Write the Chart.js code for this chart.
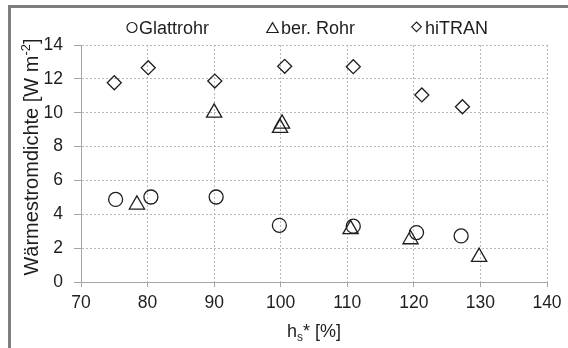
<!DOCTYPE html>
<html>
<head>
<meta charset="utf-8">
<script src="https://cdn.jsdelivr.net/npm/chart.js@4.4.1/dist/chart.umd.min.js"></script>
<style>
html, body { margin: 0; padding: 0; background: #fff; }
#wrap { position: relative; width: 568px; height: 348px; overflow: hidden; }
#frame { position: absolute; left: 8px; top: 5px; width: 620px; height: 400px;
         border-top: 3px solid #7f7f7f; border-left: 3px solid #7f7f7f; }
canvas { position: absolute; left: 0; top: 0; }
</style>
</head>
<body>
<div id="wrap">
  <div id="frame"></div>
  <canvas id="c" width="568" height="348"></canvas>
</div>
<script>
// hs* [%] and heat flux density [W m^-2] for the three tube types
const glattX = [75.2, 80.5, 90.3, 99.8, 110.9, 120.4, 127.1];
const glattY = [4.88, 5.02, 5.02, 3.35, 3.3, 2.92, 2.72];

const berX = [78.4, 90.0, 99.9, 100.2, 110.5, 119.5, 129.8];
const berY = [4.57, 10.0, 9.1, 9.35, 3.12, 2.52, 1.48];

const hiX = [75.0, 80.1, 90.1, 100.6, 110.9, 121.2, 127.3];
const hiY = [11.77, 12.66, 11.87, 12.74, 12.72, 11.05, 10.35];

const seriesNames = ['Glattrohr', 'ber. Rohr', 'hiTRAN'];
const xTicks = [70, 80, 90, 100, 110, 120, 130, 140];
const yTicks = [0, 2, 4, 6, 8, 10, 12, 14];

const FONT = "'Liberation Sans', Arial, sans-serif";
const INK = '#1e1e1e';

const toPoints = (xs, ys) => xs.map((x, i) => ({ x: x, y: ys[i] }));

// legend marker shapes
function legendMark(ctx, style, x, y, r) {
  ctx.beginPath();
  if (style === 'circle') {
    ctx.arc(x, y, r, 0, Math.PI * 2);
  } else if (style === 'triangle') {
    ctx.moveTo(x, y - r);
    ctx.lineTo(x + r * Math.sin(Math.PI / 3), y + r / 2);
    ctx.lineTo(x - r * Math.sin(Math.PI / 3), y + r / 2);
    ctx.closePath();
  } else {
    ctx.moveTo(x - r, y);
    ctx.lineTo(x, y - r);
    ctx.lineTo(x + r, y);
    ctx.lineTo(x, y + r);
    ctx.closePath();
  }
  ctx.stroke();
}

const decorations = {
  id: 'decorations',
  afterDraw(chart) {
    const ctx = chart.ctx;
    const area = chart.chartArea;
    ctx.save();
    ctx.fillStyle = INK;
    ctx.strokeStyle = INK;
    ctx.lineWidth = 1.2;

    // legend
    const items = [
      { style: 'circle', mx: 132, my: 27.5, r: 5, tx: 139 },
      { style: 'triangle', mx: 272.5, my: 29.2, r: 6.6, tx: 281 },
      { style: 'rectRot', mx: 416.5, my: 26.8, r: 4.8, tx: 425 }
    ];
    ctx.font = '18px ' + FONT;
    ctx.textBaseline = 'alphabetic';
    ctx.textAlign = 'left';
    items.forEach((it, i) => {
      legendMark(ctx, it.style, it.mx, it.my, it.r);
      ctx.fillText(seriesNames[i], it.tx, 34);
    });

    // x axis title: h_s* [%]
    const cx = (area.left + area.right) / 2;
    ctx.font = '18px ' + FONT;
    const wH = ctx.measureText('h').width;
    const wRest = ctx.measureText('* [%]').width;
    ctx.font = '12px ' + FONT;
    const wS = ctx.measureText('s').width;
    let x0 = cx - (wH + wS + wRest) / 2;
    ctx.font = '18px ' + FONT;
    ctx.fillText('h', x0, 337);
    ctx.font = '12px ' + FONT;
    ctx.fillText('s', x0 + wH, 341);
    ctx.font = '18px ' + FONT;
    ctx.fillText('* [%]', x0 + wH + wS, 337);

    // y axis title: Wärmestromdichte [W m^-2]
    ctx.translate(38, 157);
    ctx.rotate(-Math.PI / 2);
    ctx.font = '20px ' + FONT;
    const a = 'Wärmestromdichte [W m';
    const b = '-2';
    const c = ']';
    const wa = ctx.measureText(a).width;
    const wc = ctx.measureText(c).width;
    ctx.font = '13px ' + FONT;
    const wb = ctx.measureText(b).width;
    let s0 = -(wa + wb + wc) / 2;
    ctx.font = '20px ' + FONT;
    ctx.fillText(a, s0, 0);
    ctx.font = '13px ' + FONT;
    ctx.fillText(b, s0 + wa, -8);
    ctx.font = '20px ' + FONT;
    ctx.fillText(c, s0 + wa + wb, 0);
    ctx.restore();
  }
};

const markerBase = {
  borderColor: INK,
  backgroundColor: 'rgba(0,0,0,0)',
  borderWidth: 1.3,
  showLine: false
};

new Chart(document.getElementById('c'), {
  type: 'scatter',
  data: {
    datasets: [
      Object.assign({ label: seriesNames[0], data: toPoints(glattX, glattY), pointStyle: 'circle', pointRadius: 7 }, markerBase),
      Object.assign({ label: seriesNames[1], data: toPoints(berX, berY), pointStyle: 'triangle', pointRadius: 8.8 }, markerBase),
      Object.assign({ label: seriesNames[2], data: toPoints(hiX, hiY), pointStyle: 'rectRot', pointRadius: 7 }, markerBase)
    ]
  },
  options: {
    responsive: false,
    animation: false,
    events: [],
    layout: { padding: { top: 45, right: 21, left: 0, bottom: 0 } },
    plugins: { legend: { display: false }, tooltip: { enabled: false } },
    scales: {
      x: {
        type: 'linear',
        min: 70, max: 140,
        afterFit(s) { s.height = 66; },
        afterBuildTicks(s) { s.ticks = xTicks.map(v => ({ value: v })); },
        ticks: { font: { family: FONT, size: 17.5 }, color: INK, padding: 6, maxRotation: 0 },
        grid: { color: '#b8b8b8', lineWidth: 1, tickColor: '#a6a6a6', tickLength: 5, tickBorderDash: [] },
        border: { display: true, color: '#a6a6a6', width: 1, dash: [2, 2] }
      },
      y: {
        type: 'linear',
        min: 0, max: 14,
        afterFit(s) { s.width = 81; },
        afterBuildTicks(s) { s.ticks = yTicks.map(v => ({ value: v })); },
        ticks: { font: { family: FONT, size: 17.5 }, color: INK, padding: 11 },
        grid: { color: '#b8b8b8', lineWidth: 1, tickColor: '#a6a6a6', tickLength: 7, tickBorderDash: [] },
        border: { display: true, color: '#a6a6a6', width: 1, dash: [2, 2] }
      }
    }
  },
  plugins: [decorations]
});
</script>
</body>
</html>
